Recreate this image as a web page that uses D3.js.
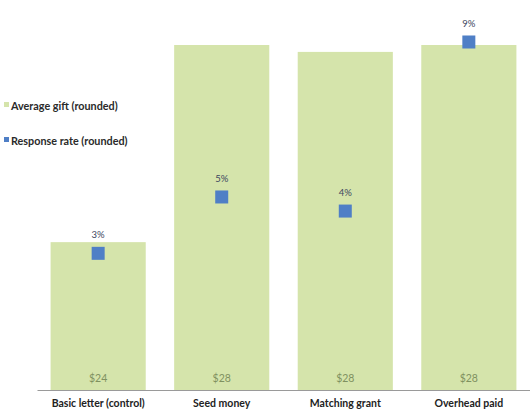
<!DOCTYPE html>
<html>
<head>
<meta charset="UTF-8">
<script src="https://d3js.org/d3.v7.min.js"></script>
<style>
  body { margin: 0; background: #fff; }
  text { font-family: Lato, "Open Sans", sans-serif; }
</style>
</head>
<body>
<script>
// DATA
var categories = ["Basic letter (control)", "Seed money", "Matching grant", "Overhead paid"];
var avgGift = [24, 28, 27.86, 28];          // dollars (bar heights)
var giftLabels = ["$24", "$28", "$28", "$28"];
var responseRate = [3.0, 4.6, 4.2, 9.0];    // percent (square markers)
var rateLabels = ["3%", "5%", "4%", "9%"];
var legendItems = ["Average gift (rounded)", "Response rate (rounded)"];

var width = 530, height = 416;
var left = 37, right = 530, base = 390;

var svg = d3.select("body").append("svg")
    .attr("width", width)
    .attr("height", height);

// SCALES
var x = d3.scaleBand()
    .domain(categories)
    .range([left, right])
    .paddingInner(0.23)
    .paddingOuter(0.11);

var y = d3.scaleLinear()
    .domain([21, 28])
    .range([base, 45]);

var y2 = d3.scaleLinear()
    .domain([0, 9])
    .range([359, 42]);

// BARS
svg.selectAll(".bar")
    .data(avgGift)
    .enter().append("rect")
    .attr("class", "bar")
    .attr("x", function (d, i) { return x(categories[i]); })
    .attr("y", function (d) { return y(d); })
    .attr("width", x.bandwidth())
    .attr("height", function (d) { return base - y(d); })
    .attr("fill", "#d5e4ab");

// gift labels
svg.selectAll(".giftLabel")
    .data(giftLabels)
    .enter().append("text")
    .attr("x", function (d, i) { return x(categories[i]) + x.bandwidth() / 2; })
    .attr("y", base - 8)
    .attr("text-anchor", "middle")
    .style("font-size", "10.5px")
    .attr("fill", "#7f9160")
    .text(function (d) { return d; });

// AXIS LINE
var xAxis = d3.axisBottom(x).tickSize(0).tickPadding(10);
var gx = svg.append("g")
    .attr("transform", "translate(0," + base + ")")
    .call(xAxis);
gx.select(".domain").attr("stroke", "#9a9a9a");
gx.selectAll("text")
    .style("font-size", "10.5px")
    .style("font-weight", "bold")
    .style("font-family", "Lato, 'Open Sans', sans-serif")
    .attr("fill", "#222");

// RESPONSE RATE SQUARES
var sq = 13;
svg.selectAll(".rate")
    .data(responseRate)
    .enter().append("rect")
    .attr("class", "rate")
    .attr("x", function (d, i) { return x(categories[i]) + x.bandwidth() / 2 - sq / 2; })
    .attr("y", function (d) { return y2(d) - sq / 2; })
    .attr("width", sq)
    .attr("height", sq)
    .attr("fill", "#4f7fc6");

svg.selectAll(".rateLabel")
    .data(rateLabels)
    .enter().append("text")
    .attr("x", function (d, i) { return x(categories[i]) + x.bandwidth() / 2; })
    .attr("y", function (d, i) { return y2(responseRate[i]) - 15; })
    .attr("text-anchor", "middle")
    .style("font-size", "9.5px")
    .attr("fill", "#3c4660")
    .text(function (d) { return d; });

// LEGEND
var legend = svg.selectAll(".legend")
    .data(legendItems)
    .enter().append("g")
    .attr("transform", function (d, i) { return "translate(4," + (107 + i * 35) + ")"; });
legend.append("rect")
    .attr("x", 0)
    .attr("y", -5)
    .attr("width", 5)
    .attr("height", 5)
    .attr("fill", function (d, i) { return i === 0 ? "#d5e4ab" : "#4f7fc6"; });
legend.append("text")
    .attr("x", 7)
    .attr("y", 3)
    .style("font-size", "10.8px")
    .style("font-weight", "bold")
    .attr("fill", "#2a2a2a")
    .text(function (d) { return d; });
</script>
</body>
</html>
